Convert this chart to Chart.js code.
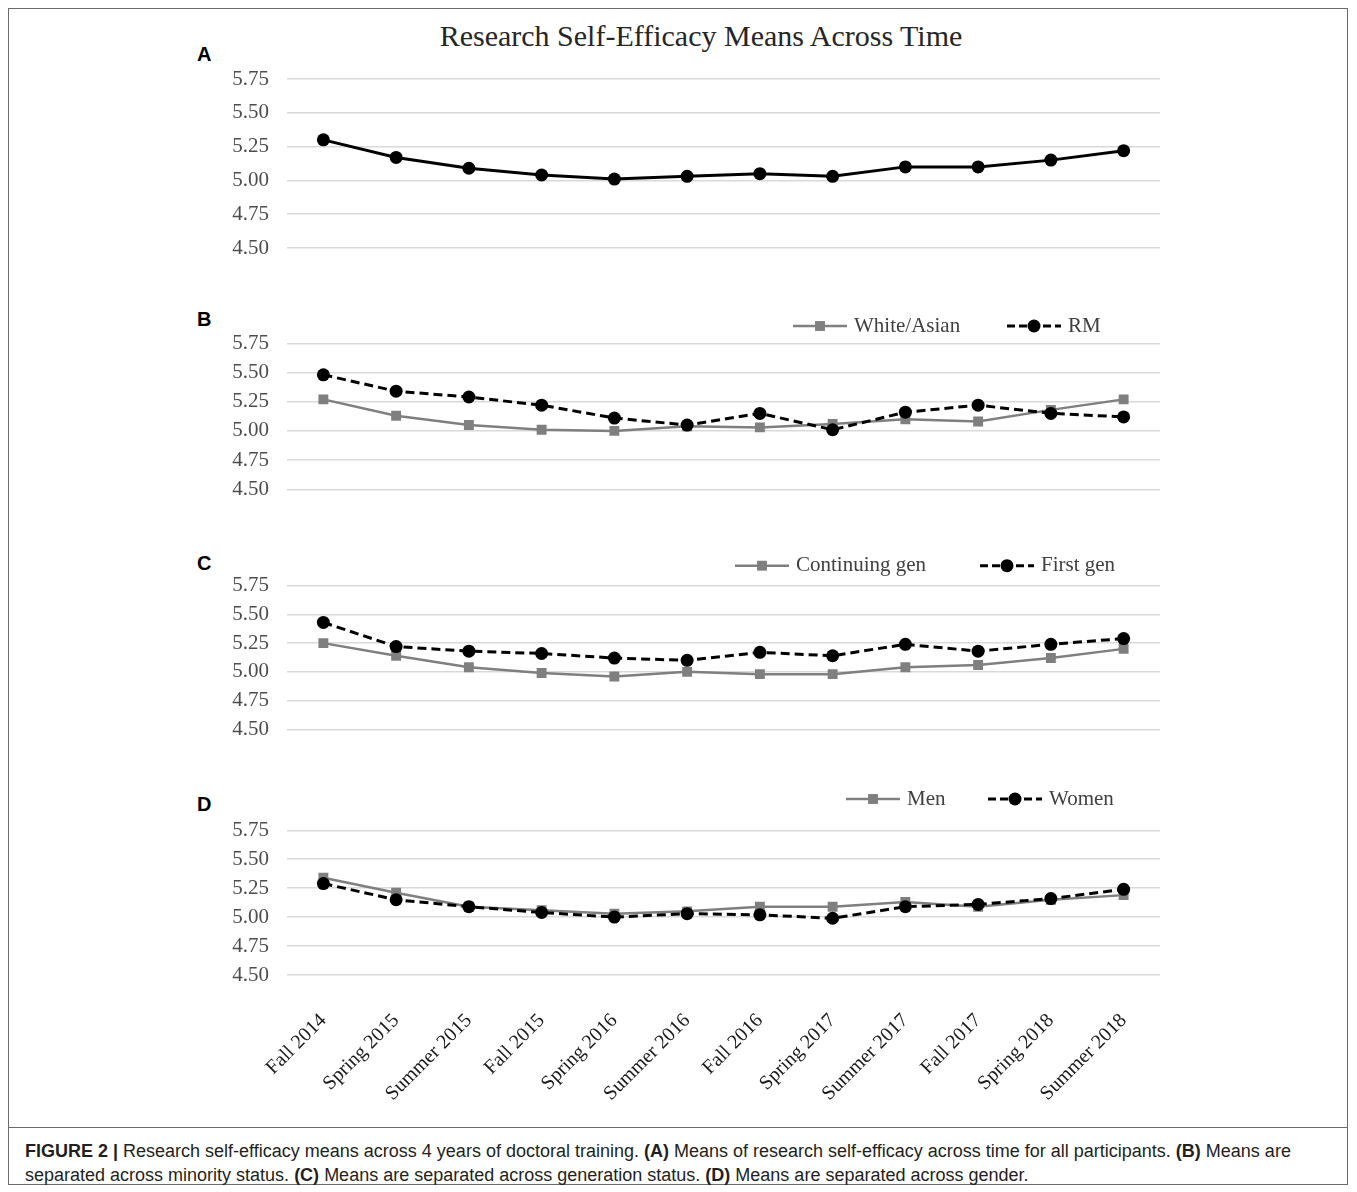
<!DOCTYPE html>
<html>
<head>
<meta charset="utf-8">
<script src="https://cdn.jsdelivr.net/npm/chart.js@4.4.1/dist/chart.umd.min.js"></script>
<style>
  body { margin: 0; width: 1357px; height: 1192px; background: #fff; position: relative; overflow: hidden; }
  .frame { position: absolute; left: 8px; top: 8px; width: 1340px; height: 1177px; border: 1px solid #6b6b6b; box-sizing: border-box; }
  .sep { position: absolute; left: 8px; top: 1127px; width: 1340px; height: 0; border-top: 1px solid #6b6b6b; }
  .title { position: absolute; left: 0; width: 1402px; top: 19px; text-align: center; font-family: "Liberation Serif", "Times New Roman", serif; font-size: 30px; color: #262626; }
  .letter { position: absolute; left: 197px; font-family: "Liberation Sans", Arial, sans-serif; font-weight: bold; font-size: 20px; color: #000; }
  .panel { position: absolute; left: 0; }
  .caption { position: absolute; left: 25px; top: 1139px; width: 1290px; font-family: "Liberation Sans Narrow", "Liberation Sans", Arial, sans-serif; font-size: 18px; line-height: 24px; color: #231f20; }
</style>
</head>
<body>
<div class="frame"></div>
<div class="sep"></div>
<div class="title">Research Self-Efficacy Means Across Time</div>
<div class="letter" style="top:43px">A</div>
<div class="letter" style="top:308px">B</div>
<div class="letter" style="top:552px">C</div>
<div class="letter" style="top:793px">D</div>
<canvas id="chartA" class="panel" style="top:60px" width="1357" height="200"></canvas>
<canvas id="chartB" class="panel" style="top:300px" width="1357" height="210"></canvas>
<canvas id="chartC" class="panel" style="top:540px" width="1357" height="200"></canvas>
<canvas id="chartD" class="panel" style="top:780px" width="1357" height="330"></canvas>
<div class="caption"><b>FIGURE 2 |</b> Research self-efficacy means across 4 years of doctoral training. <b>(A)</b> Means of research self-efficacy across time for all participants. <b>(B)</b> Means are separated across minority status. <b>(C)</b> Means are separated across generation status. <b>(D)</b> Means are separated across gender.</div>
<script>
// Data
const terms = ["Fall 2014", "Spring 2015", "Summer 2015", "Fall 2015", "Spring 2016", "Summer 2016",
  "Fall 2016", "Spring 2017", "Summer 2017", "Fall 2017", "Spring 2018", "Summer 2018"];
const yTicks = [4.50, 4.75, 5.00, 5.25, 5.50, 5.75];

const allMeans      = [5.30, 5.17, 5.09, 5.04, 5.01, 5.03, 5.05, 5.03, 5.10, 5.10, 5.15, 5.22];
const whiteAsian    = [5.27, 5.13, 5.05, 5.01, 5.00, 5.04, 5.03, 5.06, 5.10, 5.08, 5.18, 5.27];
const rm            = [5.48, 5.34, 5.29, 5.22, 5.11, 5.05, 5.15, 5.01, 5.16, 5.22, 5.15, 5.12];
const continuingGen = [5.25, 5.14, 5.04, 4.99, 4.96, 5.00, 4.98, 4.98, 5.04, 5.06, 5.12, 5.20];
const firstGen      = [5.43, 5.22, 5.18, 5.16, 5.12, 5.10, 5.17, 5.14, 5.24, 5.18, 5.24, 5.29];
const men           = [5.34, 5.21, 5.09, 5.06, 5.03, 5.05, 5.09, 5.09, 5.13, 5.09, 5.15, 5.19];
const women         = [5.29, 5.15, 5.09, 5.04, 5.00, 5.03, 5.02, 4.99, 5.09, 5.11, 5.16, 5.24];

Chart.defaults.font.family = '"Liberation Serif", "Times New Roman", serif';
Chart.defaults.color = "#595959";

// styles
const grayLine = { borderColor: "#7f7f7f", backgroundColor: "#7f7f7f", borderWidth: 2.5,
  pointStyle: "rect", pointRadius: 7, pointBackgroundColor: "#7f7f7f", pointBorderWidth: 0, order: 2 };
const blackDash = { borderColor: "#000", backgroundColor: "#000", borderWidth: 3, borderDash: [9, 5],
  pointStyle: "circle", pointRadius: 6.5, pointBackgroundColor: "#000", pointBorderWidth: 0, order: 1 };
const blackSolid = { borderColor: "#000", backgroundColor: "#000", borderWidth: 3,
  pointStyle: "circle", pointRadius: 6.5, pointBackgroundColor: "#000", pointBorderWidth: 0, order: 1 };

// legend with a line and a marker, Excel style
const lineLegend = {
  id: "lineLegend",
  afterDraw(chart, args, o) {
    if (!o.show) return;
    const ctx = chart.ctx;
    ctx.save();
    ctx.font = '21px "Liberation Serif", "Times New Roman", serif';
    ctx.textBaseline = "middle";
    chart.data.datasets.forEach((ds, i) => {
      const x = o.xs[i];
      ctx.strokeStyle = ds.borderColor;
      ctx.lineWidth = ds.borderWidth;
      ctx.setLineDash(ds.borderDash ? [8, 4] : []);
      ctx.beginPath();
      ctx.moveTo(x, o.y);
      ctx.lineTo(x + 54, o.y);
      ctx.stroke();
      ctx.setLineDash([]);
      ctx.fillStyle = ds.pointBackgroundColor;
      Chart.helpers.drawPoint(ctx, { pointStyle: ds.pointStyle, radius: ds.pointRadius, borderWidth: 0, rotation: 0 }, x + 27, o.y);
      ctx.fillStyle = "#404040";
      ctx.fillText(ds.label, x + 61, o.y);
    });
    ctx.restore();
  }
};

function makePanel(id, datasets, padTop, padBottom, legend, showX) {
  const ctx = document.getElementById(id).getContext("2d");
  new Chart(ctx, {
    type: "line",
    data: { labels: terms, datasets: datasets },
    options: {
      responsive: false,
      animation: false,
      layout: { padding: { left: 0, right: 197, top: padTop, bottom: padBottom } },
      plugins: {
        legend: { display: false },
        tooltip: { enabled: false },
        lineLegend: legend
      },
      scales: {
        x: {
          display: showX,
          offset: true,
          grid: { display: false, drawTicks: false },
          border: { display: false },
          ticks: { autoSkip: false, minRotation: 45, maxRotation: 45, padding: 34,
            color: "#1a1a1a", font: { size: 20 } },
          afterFit: s => {
            s.height = showX ? 135 : 0;
            s.paddingLeft = 0; s.paddingRight = 0;
          }
        },
        y: {
          min: 4.5, max: 5.75,
          afterBuildTicks: s => { s.ticks = yTicks.map(v => ({ value: v })); },
          grid: { color: "#d9d9d9", lineWidth: 1.5, drawTicks: false },
          border: { display: false },
          ticks: { padding: 18, font: { size: 21 }, color: "#4d4d4d", callback: v => Number(v).toFixed(2) },
          afterFit: s => {
            s.width = 287;
            s.paddingTop = 0; s.paddingBottom = 0;
          }
        }
      }
    },
    plugins: [lineLegend]
  });
}

makePanel("chartA",
  [Object.assign({ label: "All", data: allMeans }, blackSolid)],
  19, 12, { show: false }, false);
makePanel("chartB",
  [Object.assign({ label: "White/Asian", data: whiteAsian }, grayLine),
   Object.assign({ label: "RM", data: rm }, blackDash)],
  43.3, 20.7, { show: true, xs: [793, 1007], y: 26 }, false);
makePanel("chartC",
  [Object.assign({ label: "Continuing gen", data: continuingGen }, grayLine),
   Object.assign({ label: "First gen", data: firstGen }, blackDash)],
  45.7, 10.7, { show: true, xs: [735, 980], y: 25.7 }, false);
makePanel("chartD",
  [Object.assign({ label: "Men", data: men }, grayLine),
   Object.assign({ label: "Women", data: women }, blackDash)],
  50.3, 0, { show: true, xs: [846, 988], y: 19 }, true);
</script>
</body>
</html>
